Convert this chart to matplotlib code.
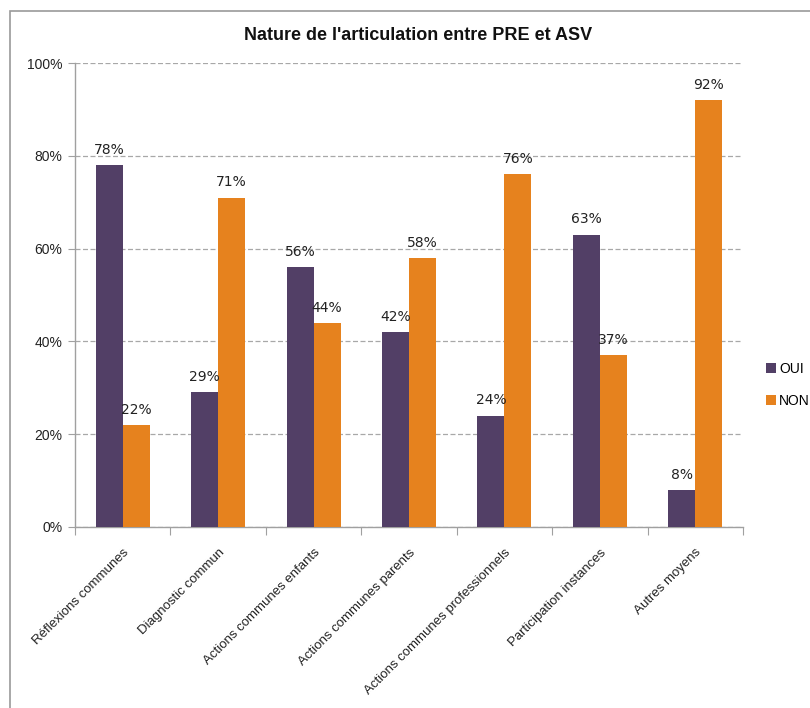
import matplotlib
matplotlib.use("Agg")
import matplotlib.pyplot as plt
from matplotlib.patches import Rectangle, Patch
import numpy as np

plt.rcParams['font.family'] = ['Liberation Sans', 'DejaVu Sans']

categories = [
    "Réflexions communes",
    "Diagnostic commun",
    "Actions communes enfants",
    "Actions communes parents",
    "Actions communes professionnels",
    "Participation instances",
    "Autres moyens",
]
oui = [78, 29, 56, 42, 24, 63, 8]
non = [22, 71, 44, 58, 76, 37, 92]
series_names = ["OUI", "NON"]
yticks = [0, 20, 40, 60, 80, 100]

purple = "#523F66"
orange = "#E6821E"
text_col = "#222222"
axis_col = "#A0A0A0"

W, H = 810, 708
fig = plt.figure(figsize=(W / 100, H / 100), dpi=100)

# outer frame
fig.patches.append(Rectangle((10 / W, -0.1), 1.2, 1 - 11 / H + 0.1,
                             transform=fig.transFigure, fill=False,
                             edgecolor="#9A9A9A", linewidth=1.2))

ax = fig.add_axes([75 / W, 1 - 527 / H, (743 - 75) / W, (527 - 63) / H])

x = np.arange(len(categories))
bw = 0.283
b1 = ax.bar(x - bw / 2, oui, bw, color=purple, label=series_names[0], zorder=3)
b2 = ax.bar(x + bw / 2, non, bw, color=orange, label=series_names[1], zorder=3)

for bars, vals in ((b1, oui), (b2, non)):
    for r, v in zip(bars, vals):
        ax.annotate(f"{v}%", (r.get_x() + r.get_width() / 2, v),
                    xytext=(0, 6), textcoords="offset points",
                    ha="center", va="bottom", fontsize=10,
                    family=["DejaVu Sans"], color=text_col, zorder=4)

ax.set_xlim(-0.5, len(categories) - 0.5)
ax.set_ylim(0, 100)
ax.set_yticks(yticks)
ax.set_yticklabels([f"{t}%" for t in yticks], fontsize=10, color=text_col)
ax.yaxis.grid(True, linestyle=(0, (4, 2)), color="#A8A8A8", linewidth=0.9, zorder=0)
ax.set_axisbelow(True)

# category separators as ticks, labels at centres
ax.set_xticks(np.arange(len(categories) + 1) - 0.5)
ax.set_xticklabels([])
ax.set_xticks(x, minor=True)
ax.set_xticklabels(categories, minor=True, rotation=45, ha="right", va="top",
                   rotation_mode="anchor", fontsize=9.5, color=text_col)
ax.tick_params(axis="x", which="major", length=6, color=axis_col, direction="out")
ax.tick_params(axis="x", which="minor", length=0, pad=14)
ax.tick_params(axis="y", length=5, color=axis_col, pad=4)

for s in ("top", "right"):
    ax.spines[s].set_visible(False)
for s in ("left", "bottom"):
    ax.spines[s].set_color(axis_col)
    ax.spines[s].set_linewidth(1.0)

fig.text(418 / W, 1 - 36 / H, "Nature de l'articulation entre PRE et ASV",
         ha="center", va="center", fontsize=13, fontweight="bold", color="#111111")

handles = [Patch(facecolor=purple), Patch(facecolor=orange)]
fig.legend(handles, series_names, loc="center left",
           bbox_to_anchor=(766 / W, 1 - 385 / H), frameon=False,
           fontsize=10, handlelength=0.7, handleheight=0.7,
           handletextpad=0.25, labelspacing=1.3, borderaxespad=0,
           borderpad=0)

fig.savefig("out.png", dpi=100)
